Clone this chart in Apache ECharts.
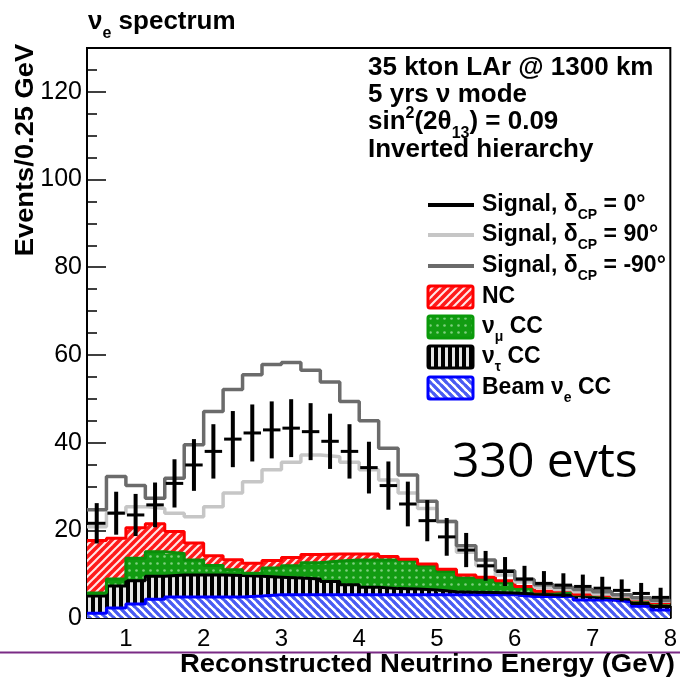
<!DOCTYPE html>
<html>
<head>
<meta charset="utf-8">
<script src="https://cdn.jsdelivr.net/npm/echarts@6/dist/echarts.min.js"></script>
<style>
  html, body { margin: 0; padding: 0; background: #fff; }
  #chart { width: 680px; height: 677px; }
</style>
</head>
<body>
<div id="chart"></div>
<script>
// bin low edges (GeV), 0.25 GeV bins
const binLow = [0.5, 0.75, 1.0, 1.25, 1.5, 1.75, 2.0, 2.25, 2.5, 2.75,
  3.0, 3.25, 3.5, 3.75, 4.0, 4.25, 4.5, 4.75, 5.0, 5.25,
  5.5, 5.75, 6.0, 6.25, 6.5, 6.75, 7.0, 7.25, 7.5, 7.75];
const binWidth = 0.25;

// stacked backgrounds (bottom -> top)
const beamNueCC = [1.1, 2.3, 3.2, 4.3, 4.8, 4.8, 4.8, 4.8, 5.0, 5.3,
  5.3, 5.3, 5.3, 5.3, 5.3, 5.3, 5.3, 5.3, 5.3, 5.3,
  5.3, 5.3, 4.9, 4.9, 4.9, 4.1, 4.1, 3.7, 2.7, 1.8];
const nuTauCC = [3.9, 5.0, 5.3, 5.2, 5.0, 5.0, 5.0, 4.9, 4.5, 4.0,
  3.8, 3.6, 3.0, 2.3, 1.7, 1.4, 1.3, 1.1, 0.7, 0.6,
  0.5, 0.4, 0.6, 0.4, 0.3, 0.7, 0.5, 0.5, 0.6, 0.8];
const nuMuCC = [0.7, 1.6, 5.1, 5.6, 4.9, 3.4, 2.2, 1.3, 0.7, 2.1,
  2.8, 3.7, 4.7, 5.6, 6.2, 6.5, 6.4, 5.6, 4.6, 3.2,
  3.3, 2.3, 1.6, 0.7, 0.8, 0.5, 0.3, 0.6, 0.8, 0.8];
const ncBkg = [12.0, 9.3, 7.0, 6.4, 5.0, 3.9, 2.2, 2.3, 2.3, 1.7,
  1.9, 1.9, 1.6, 1.4, 1.4, 0.8, 0.4, 0.3, 0.5, 0.7,
  0.2, 0.5, 0.1, 0.1, 0.4, 0.1, 0.1, 0.05, 0.05, 0.05];

// signal + background spectra
const sigCP0 = [21.6, 23.9, 23.5, 25.8, 30.7, 34.9, 38.0, 40.8, 42.2, 42.9,
  43.3, 42.5, 40.3, 38.0, 34.3, 30.2, 26.0, 22.2, 18.5, 15.5,
  11.9, 10.6, 8.9, 7.9, 7.5, 7.2, 6.8, 6.3, 5.6, 4.7];
const sigCP0Err = [4.6, 4.9, 4.8, 5.1, 5.5, 5.9, 6.2, 6.4, 6.5, 6.5,
  6.6, 6.5, 6.3, 6.2, 5.9, 5.5, 5.1, 4.7, 4.3, 3.9,
  3.4, 3.3, 3.0, 2.8, 2.7, 2.7, 2.6, 2.5, 2.4, 2.2];
const sigCP90 = [20.8, 24.0, 25.4, 25.0, 23.9, 23.1, 25.4, 28.5, 31.1, 33.8,
  35.5, 37.2, 36.8, 35.5, 33.8, 31.5, 28.5, 25.0, 22.0, 15.0,
  12.0, 9.8, 8.2, 7.0, 6.5, 6.0, 5.5, 5.0, 4.4, 3.8];
const sigCPm90 = [24.7, 32.3, 30.2, 27.3, 31.9, 39.5, 47.1, 52.1, 55.5, 57.8,
  58.3, 56.5, 53.8, 49.4, 45.0, 38.7, 32.6, 26.6, 22.0, 16.5,
  13.2, 10.8, 8.8, 7.6, 7.0, 6.5, 6.0, 5.3, 4.6, 4.0];

const FONT = '"Liberation Sans", Arial, sans-serif';

function pattern(w, h, draw) {
  const c = document.createElement('canvas');
  c.width = w; c.height = h;
  draw(c.getContext('2d'), w, h);
  return { image: c, repeat: 'repeat' };
}
const ncFill = pattern(8, 8, (ctx) => {
  ctx.fillStyle = '#ff1a1a'; ctx.fillRect(0, 0, 8, 8);
  ctx.strokeStyle = '#ffe8e8'; ctx.lineWidth = 2;
  [[-8, 8, 8, -8], [0, 8, 8, 0], [0, 16, 16, 0]].forEach(([a, b, c2, d]) => {
    ctx.beginPath(); ctx.moveTo(a, b); ctx.lineTo(c2, d); ctx.stroke();
  });
});
const numuFill = pattern(7, 7, (ctx) => {
  ctx.fillStyle = '#129c12'; ctx.fillRect(0, 0, 7, 7);
  ctx.fillStyle = '#7fd07f';
  ctx.beginPath(); ctx.arc(3.5, 3.5, 1.3, 0, Math.PI * 2); ctx.fill();
});
const nutauFill = pattern(7, 4, (ctx) => {
  ctx.fillStyle = '#000'; ctx.fillRect(0, 0, 7, 4);
  ctx.fillStyle = '#e6e6e6'; ctx.fillRect(4, 0, 3, 4);
});
const nueFill = pattern(8, 8, (ctx) => {
  ctx.fillStyle = '#ffffff'; ctx.fillRect(0, 0, 8, 8);
  ctx.strokeStyle = '#4a5cf2'; ctx.lineWidth = 3;
  [[-8, -8, 8, 8], [0, 0, 8, 8], [-8, 0, 8, 16], [0, -8, 16, 8]].forEach(([a, b, c2, d]) => {
    ctx.beginPath(); ctx.moveTo(a, b); ctx.lineTo(c2, d); ctx.stroke();
  });
});

// cumulative stack
const layers = [
  { name: 'Beam νe CC', vals: beamNueCC, fill: nueFill, line: '#0000ff' },
  { name: 'ντ CC', vals: nuTauCC, fill: nutauFill, line: '#000000' },
  { name: 'νμ CC', vals: nuMuCC, fill: numuFill, line: '#0a8f0a' },
  { name: 'NC', vals: ncBkg, fill: ncFill, line: '#ff0000' }
];
let running = binLow.map(() => 0);
layers.forEach((l) => {
  l.lo = running;
  l.hi = running.map((v, i) => v + l.vals[i]);
  running = l.hi;
});

function stepData(vals) {
  const d = binLow.map((x, i) => [x, vals[i]]);
  d.push([binLow[binLow.length - 1] + binWidth, vals[vals.length - 1]]);
  return d;
}

function fillRender(fill) {
  return function (params, api) {
    const x0 = api.value(0);
    const a = api.coord([x0, api.value(2)]);
    const b = api.coord([x0 + binWidth, api.value(1)]);
    const xl = Math.round(a[0]), xr = Math.round(b[0]);
    return {
      type: 'rect',
      shape: { x: xl, y: a[1], width: xr - xl, height: b[1] - a[1] },
      style: { fill: fill }
    };
  };
}

const series = [];
layers.forEach((l) => {
  series.push({
    type: 'custom', name: l.name, z: 2, clip: true,
    renderItem: fillRender(l.fill),
    data: binLow.map((x, i) => [x, l.lo[i], l.hi[i]])
  });
});
layers.forEach((l) => {
  series.push({
    type: 'line', name: l.name + ' outline', step: 'end', symbol: 'none', z: 3,
    lineStyle: { color: l.line, width: 3 },
    data: stepData(l.hi)
  });
});
series.push({
  type: 'line', name: 'Signal, δCP = 90°', step: 'end', symbol: 'none', z: 4,
  lineStyle: { color: '#c6c6c6', width: 3.5 },
  data: stepData(sigCP90)
});
series.push({
  type: 'line', name: 'Signal, δCP = -90°', step: 'end', symbol: 'none', z: 4,
  lineStyle: { color: '#6b6b6b', width: 3.5 },
  data: stepData(sigCPm90)
});
series.push({
  type: 'custom', name: 'Signal, δCP = 0°', z: 5, clip: true,
  renderItem: function (params, api) {
    const x0 = api.value(0), v = api.value(1), e = api.value(2);
    const l = api.coord([x0, v]), r = api.coord([x0 + binWidth, v]);
    const t = api.coord([x0 + binWidth / 2, v + e]), bo = api.coord([x0 + binWidth / 2, v - e]);
    return {
      type: 'group',
      children: [
        { type: 'line', shape: { x1: l[0] + 1, y1: l[1], x2: r[0] - 1, y2: r[1] }, style: { stroke: '#000', lineWidth: 3 } },
        { type: 'line', shape: { x1: t[0], y1: t[1], x2: bo[0], y2: bo[1] }, style: { stroke: '#000', lineWidth: 4 } }
      ]
    };
  },
  data: binLow.map((x, i) => [x, sigCP0[i], sigCP0Err[i]])
});

// text with ROOT-like sub/superscripts, laid out piece by piece
const measureCtx = document.createElement('canvas').getContext('2d');
function textRun(x, y, parts, size) {
  const out = [];
  const small = Math.round(size * 0.62);
  let cx = x;
  parts.forEach(([txt, kind]) => {
    const fs = kind === 'm' ? size : small;
    const font = `bold ${fs}px ${FONT}`;
    const dy = kind === 's' ? size * 0.45 : kind === 'u' ? -size * 0.33 : 0;
    out.push({
      type: 'text', x: cx, y: y + dy, z: 20,
      style: { text: txt, font: font, align: 'left', verticalAlign: 'middle', fill: '#000' }
    });
    measureCtx.font = font;
    cx += measureCtx.measureText(txt).width;
  });
  return out;
}

const infoLines = [
  [['35 kton LAr @ 1300 km', 'm']],
  [['5 yrs ν mode', 'm']],
  [['sin', 'm'], ['2', 'u'], ['(2θ', 'm'], ['13', 's'], [') = 0.09', 'm']],
  [['Inverted hierarchy', 'm']]
];
const infoY = [68, 95, 122, 150];

const legendLines = [
  { parts: [['Signal, δ', 'm'], ['CP', 's'], [' = 0°', 'm']], color: '#000000', y: 205 },
  { parts: [['Signal, δ', 'm'], ['CP', 's'], [' = 90°', 'm']], color: '#c6c6c6', y: 235 },
  { parts: [['Signal, δ', 'm'], ['CP', 's'], [' = -90°', 'm']], color: '#6b6b6b', y: 266 }
];
const legendBoxes = [
  { parts: [['NC', 'm']], fill: ncFill, stroke: '#ff0000', y: 297 },
  { parts: [['ν', 'm'], ['μ', 's'], [' CC', 'm']], fill: numuFill, stroke: '#0a9a0a', y: 327 },
  { parts: [['ν', 'm'], ['τ', 's'], [' CC', 'm']], fill: nutauFill, stroke: '#000000', y: 357 },
  { parts: [['Beam ν', 'm'], ['e', 's'], [' CC', 'm']], fill: nueFill, stroke: '#0000ff', y: 388 }
];

let graphics = [
  { type: 'line', z: 20, shape: { x1: 0, y1: 652.5, x2: 680, y2: 652.5 }, style: { stroke: '#7a2b85', lineWidth: 2 } },
  {
    type: 'text', x: 26, y: 150, rotation: Math.PI / 2, scaleX: 1.05, z: 20,
    style: { text: 'Events/0.25 GeV', font: `bold 26px ${FONT}`, align: 'center', verticalAlign: 'middle', fill: '#000' }
  },
  {
    type: 'text', x: 675, y: 665, scaleX: 1.1, z: 20,
    style: { text: 'Reconstructed Neutrino Energy (GeV)', font: `bold 25px ${FONT}`, align: 'right', verticalAlign: 'middle', fill: '#000' }
  },
  {
    type: 'text', x: 452, y: 463, z: 20,
    style: { text: '330 evts', font: '48px "Open Sans", "Noto Sans", sans-serif', align: 'left', verticalAlign: 'middle', fill: '#000' }
  }
];
graphics = graphics.concat(textRun(88, 22, [['ν', 'm'], ['e', 's'], [' spectrum', 'm']], 26));
infoLines.forEach((p, i) => { graphics = graphics.concat(textRun(368, infoY[i], p, 26)); });
legendLines.forEach((l) => {
  graphics.push({ type: 'line', z: 20, shape: { x1: 428, y1: l.y, x2: 474, y2: l.y }, style: { stroke: l.color, lineWidth: 4 } });
  graphics = graphics.concat(textRun(482, l.y, l.parts, 23));
});
legendBoxes.forEach((b) => {
  graphics.push({ type: 'rect', z: 20, shape: { x: 428, y: b.y - 11, width: 45, height: 22, r: 2 }, style: { fill: b.fill, stroke: b.stroke, lineWidth: 3 } });
  graphics = graphics.concat(textRun(482, b.y, b.parts, 23));
});

const chart = echarts.init(document.getElementById('chart'));
chart.setOption({
  animation: false,
  backgroundColor: '#ffffff',
  grid: { left: 87, right: 5, top: 48, bottom: 59, show: true, borderColor: '#000', borderWidth: 2, backgroundColor: 'transparent' },
  xAxis: {
    type: 'value', min: 0.5, max: 8, interval: 0.5,
    axisLine: { show: true, lineStyle: { color: '#000', width: 2 } },
    axisTick: { show: true, inside: true, length: 12, lineStyle: { color: '#000', width: 1.5 } },
    splitLine: { show: false },
    axisLabel: {
      margin: 9, color: '#000', fontSize: 24, fontFamily: FONT,
      formatter: (v) => (Math.abs(v - Math.round(v)) < 1e-6 ? String(Math.round(v)) : '')
    }
  },
  yAxis: {
    type: 'value', min: 0, max: 130, interval: 20,
    axisLine: { show: true, lineStyle: { color: '#000', width: 2 } },
    axisTick: { show: true, inside: true, length: 19, lineStyle: { color: '#000', width: 1.5 } },
    minorTick: { show: true, splitNumber: 4, length: 10, lineStyle: { color: '#000', width: 1.5 } },
    splitLine: { show: false },
    axisLabel: { margin: 5, color: '#000', fontSize: 25, fontFamily: FONT, showMaxLabel: false }
  },
  series: series,
  graphic: graphics
});
</script>
</body>
</html>
